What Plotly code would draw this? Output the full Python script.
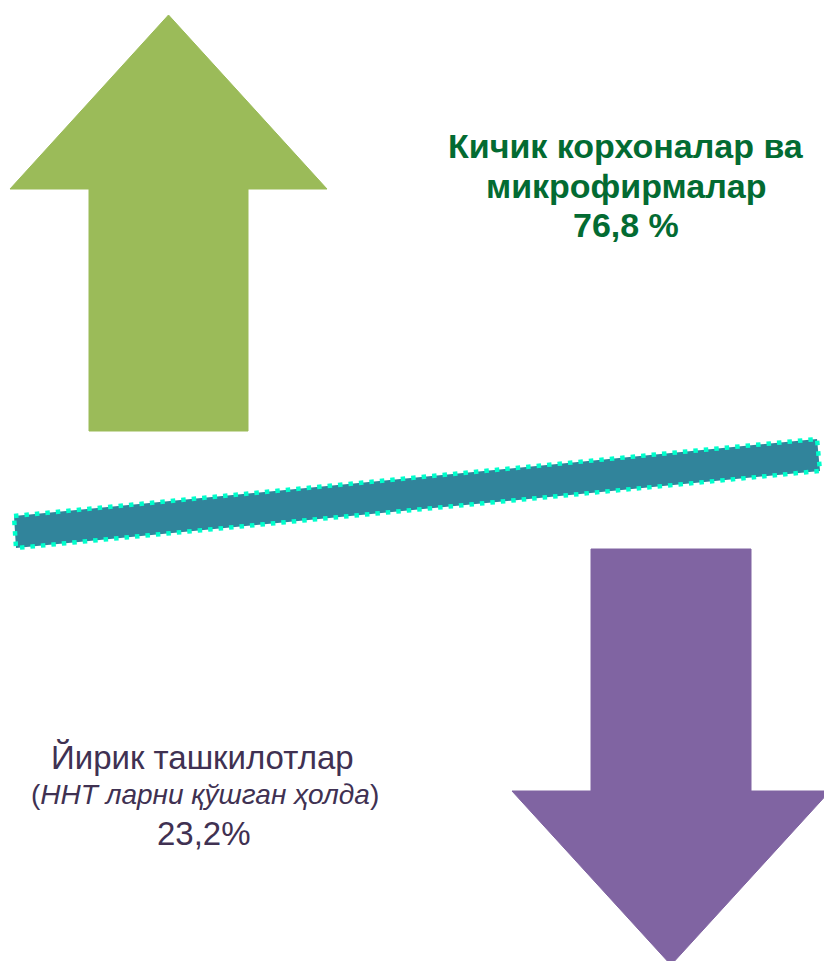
import plotly.graph_objects as go

# ---- data ----
categories = ["Кичик корхоналар ва микрофирмалар", "Йирик ташкилотлар"]
shares = [76.8, 23.2]
subnote = "ННТ ларни қўшган ҳолда"
colors = ["#9BBB59", "#8064A2"]
text_colors = ["#036B32", "#403152"]

W, H = 824, 961

# ---- geometry (layout, in pixel-like axis units) ----
up_arrow = dict(cx=168.5, tip=15, head_base=189, head_half=158.5, shaft_half=79.5, shaft_end=431)
down_arrow = dict(cx=671, tip=965, head_base=791, head_half=159, shaft_half=80, shaft_end=549)
bar_x = [14, 817, 820, 16, 14]
bar_y = [516, 439, 471, 548, 516]


def arrow_poly(a):
    cx = a["cx"]
    xs = [cx, cx + a["head_half"], cx + a["shaft_half"], cx + a["shaft_half"],
          cx - a["shaft_half"], cx - a["shaft_half"], cx - a["head_half"], cx]
    ys = [a["tip"], a["head_base"], a["head_base"], a["shaft_end"],
          a["shaft_end"], a["head_base"], a["head_base"], a["tip"]]
    return xs, ys


fig = go.Figure()
for a, c in zip([up_arrow, down_arrow], colors):
    xs, ys = arrow_poly(a)
    fig.add_trace(go.Scatter(x=xs, y=ys, fill="toself", fillcolor=c, mode="lines",
                             line=dict(color=c, width=1), hoverinfo="skip", showlegend=False))

fig.add_trace(go.Scatter(x=bar_x, y=bar_y, fill="toself", fillcolor="#31849B", mode="lines",
                         line=dict(color="#00FFCC", width=4.5, dash="4.5px,6px"),
                         hoverinfo="skip", showlegend=False))


def fmt(v):
    return f"{v:.1f}".replace(".", ",")


top_lines = ["Кичик корхоналар ва", "микрофирмалар", fmt(shares[0]) + " %"]
top_y = [146, 186, 225]
for t, yy in zip(top_lines, top_y):
    fig.add_annotation(
        x=626, y=yy, xref="x", yref="y", showarrow=False, text=t,
        font=dict(family="Liberation Sans", size=34, color=text_colors[0], weight="bold"),
        xanchor="center", yanchor="middle")

bot_lines = ["Йирик ташкилотлар", "(<i>" + subnote + "</i>)", fmt(shares[1]) + "%"]
bot_y = [757, 794, 833]
bot_x = [202, 205, 204]
bot_size = [33, 28, 33]
for t, xx, yy, s in zip(bot_lines, bot_x, bot_y, bot_size):
    fig.add_annotation(
        x=xx, y=yy, xref="x", yref="y", showarrow=False, text=t,
        font=dict(family="Liberation Sans", size=s, color=text_colors[1]),
        xanchor="center", yanchor="middle")

fig.update_xaxes(range=[0, W], visible=False, fixedrange=True)
fig.update_yaxes(range=[H, 0], visible=False, fixedrange=True)
fig.update_layout(width=W, height=H, margin=dict(l=0, r=0, t=0, b=0),
                  paper_bgcolor="white", plot_bgcolor="white")

fig.write_html("out.html", post_script="document.body.style.margin='0';",
               config={"displayModeBar": False})
